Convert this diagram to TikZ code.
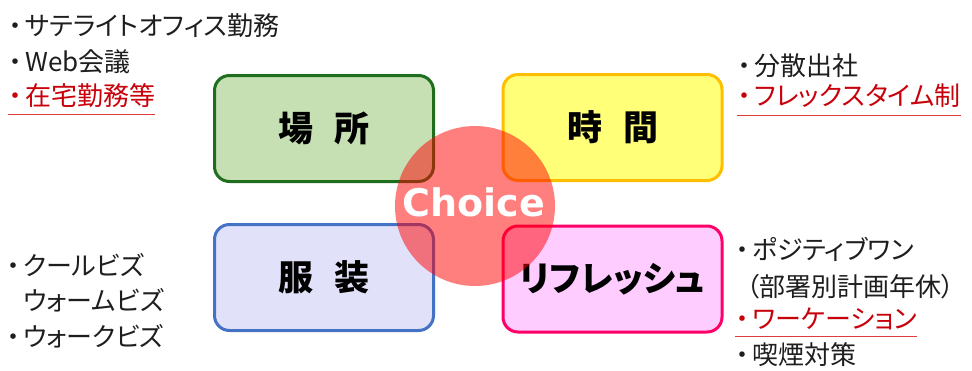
\documentclass[tikz,border=0pt]{standalone}
\usepackage{fontspec}
\newfontfamily\jp[RawFeature=+palt]{Noto Sans CJK JP}
\newfontfamily\lat{DejaVu Sans}
\newcommand\dt{\makebox[17pt][l]{\hspace{1pt}・}}
\definecolor{grfill}{RGB}{198,224,180}
\definecolor{grline}{RGB}{30,110,30}
\definecolor{yefill}{RGB}{255,255,120}
\definecolor{yeline}{RGB}{255,190,0}
\definecolor{blfill}{RGB}{225,225,250}
\definecolor{blline}{RGB}{68,114,196}
\definecolor{pkfill}{RGB}{255,204,255}
\definecolor{pkline}{RGB}{255,0,102}
\definecolor{itemred}{RGB}{200,0,10}
\definecolor{ulred}{RGB}{220,60,60}
\definecolor{itemtxt}{RGB}{30,30,30}
\begin{document}
\begin{tikzpicture}[x=1pt,y=-1pt,
  box/.style={rounded corners=15pt, line width=3pt, minimum width=219pt, minimum height=106pt, inner sep=0pt, text=black, font=\jp\bfseries\fontsize{35}{35}\selectfont},
  item/.style={anchor=west, inner sep=0pt, text height=20pt, text depth=4pt, text=itemtxt, font=\jp\fontsize{26}{26}\selectfont},
  reditem/.style={item, text=itemred},
  ul/.style={draw=ulred, line width=1.2pt}]
\useasboundingbox (0,0) rectangle (972,370);

\node[box, draw=grline, fill=grfill] (place) at (324,128.5) {場\hspace{0.6em}所};
\node[box, draw=yeline, fill=yefill] (time) at (612.5,127.5) {時\hspace{0.6em}間};
\node[box, draw=blline, fill=blfill] (dress) at (324,277.5) {服\hspace{0.6em}装};
\node[box, draw=pkline, fill=pkfill] (refresh) at (612.5,279) {リフレッシュ};

\node[circle, fill=red, fill opacity=0.5, minimum size=160pt, inner sep=0pt] (circ) at (475,206) {};
\node[text=white, inner sep=0pt, font=\lat\bfseries\fontsize{38}{38}\selectfont] (choice) at (474,202) {Choice};

% left top
\node[item] (lt1) at (8,27) {\dt サテライトオフィス勤務};
\node[item] (lt2) at (8,63) {\dt Web会議};
\node[reditem] (lt3) at (8,97) {\dt 在宅勤務等};
\draw[ul] ([yshift=-5pt]lt3.south west) -- ([yshift=-5pt]lt3.south east);

% right top
\node[item] (rt1) at (737,67) {\dt 分散出社};
\node[reditem] (rt2) at (737,97) {\dt フレックスタイム制};
\draw[ul] ([yshift=-6pt]rt2.south west) -- ([yshift=-6pt]rt2.south east);

% right bottom
\node[item] (rb1) at (735,251) {\dt ポジティブワン};
\node[item] (rb2) at (746,288) {（部署別計画年休）};
\node[reditem] (rb3) at (735,320) {\dt ワーケーション};
\draw[ul] ([yshift=-4pt]rb3.south west) -- ([yshift=-4pt]rb3.south east);
\node[item] (rb4) at (735,356) {\dt 喫煙対策};

% left bottom
\node[item] (lb1) at (6,267) {\dt クールビズ};
\node[item] (lb2) at (6,302) {\phantom{\dt}ウォームビズ};
\node[item] (lb3) at (6,338) {\dt ウォークビズ};
\end{tikzpicture}
\end{document}
